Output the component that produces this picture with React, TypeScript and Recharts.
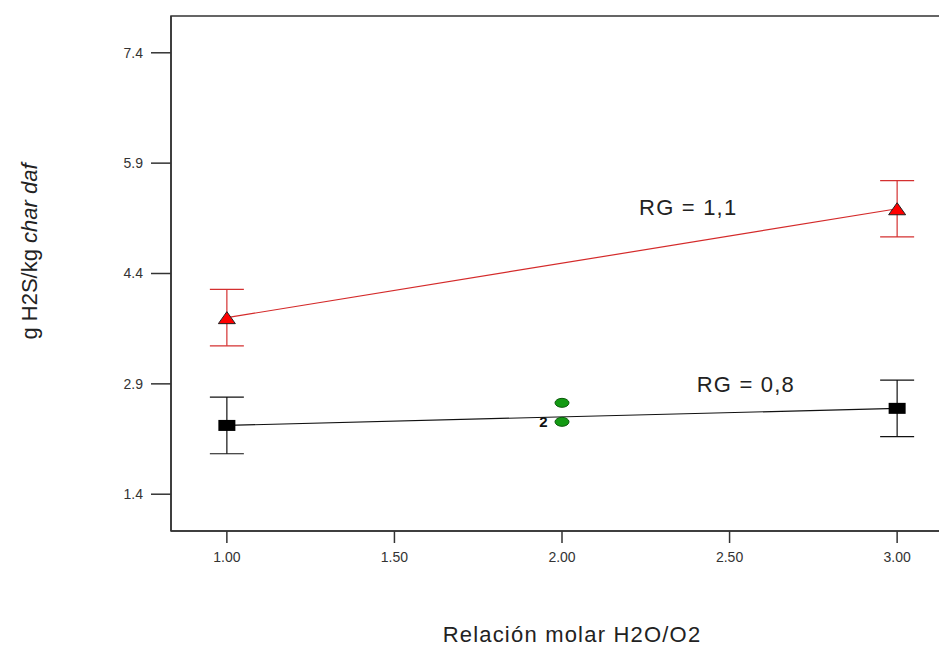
import {
  ScatterChart,
  Scatter,
  XAxis,
  YAxis,
  ErrorBar,
  ReferenceArea,
  ReferenceDot,
  LabelList,
  Label,
} from "recharts";

// Relación molar H2O/O2 vs g H2S/kg char daf
const xTicks = [1, 1.5, 2, 2.5, 3];
const yTicks = [1.4, 2.9, 4.4, 5.9, 7.4];
const xDomain = [0.8333, 3.1667];
const yDomain = [0.9, 7.9];

const rg11X = [1, 3];
const rg11Y = [3.8, 5.28];
const rg11Err = [0.383, 0.383];

const rg08X = [1, 3];
const rg08Y = [2.335, 2.567];
const rg08Err = [0.385, 0.385];

const centerX = [2, 2];
const centerY = [2.642, 2.384];
const centerCount = ["", "2"];

const annotations = [
  { x: 2.23, y: 5.3, text: "RG = 1,1" },
  { x: 2.402, y: 2.896, text: "RG = 0,8" },
];

const FONT = "'Liberation Sans', Arial, sans-serif";

const rg11Data = rg11X.map((x, i) => ({ x, y: rg11Y[i], err: rg11Err[i] }));
const rg08Data = rg08X.map((x, i) => ({ x, y: rg08Y[i], err: rg08Err[i] }));
const centerData = centerX.map((x, i) => ({ x, y: centerY[i], n: centerCount[i] }));

function Triangle(props: any) {
  const { cx, cy } = props;
  return (
    <polygon
      points={`${cx},${cy - 6} ${cx - 8.5},${cy + 6} ${cx + 8.5},${cy + 6}`}
      fill="#ff0000"
      stroke="#222"
      strokeWidth={1}
    />
  );
}

function Square(props: any) {
  const { cx, cy } = props;
  return <rect x={cx - 8.5} y={cy - 5.5} width={17} height={11} fill="#000" />;
}

function Ellipse(props: any) {
  const { cx, cy } = props;
  return <ellipse cx={cx} cy={cy} rx={7} ry={4.5} fill="#139a13" stroke="#0b5a0b" strokeWidth={1} />;
}

function AnnotationText(text: string) {
  return (props: any) => (
    <text
      x={props.cx}
      y={props.cy}
      dominantBaseline="central"
      fontFamily={FONT}
      fontSize={22}
      letterSpacing={1.2}
      fill="#222"
    >
      {text}
    </text>
  );
}

function YTitle(props: any) {
  const { viewBox } = props;
  const x = 29;
  const y = viewBox.y + viewBox.height / 2 - 22;
  return (
    <text
      x={x}
      y={y}
      transform={`rotate(-90, ${x}, ${y})`}
      textAnchor="middle"
      dominantBaseline="central"
      fontFamily={FONT}
      fontSize={22}
      fill="#222"
    >
      g H2S/kg <tspan fontStyle="italic">char daf</tspan>
    </text>
  );
}

function XTitle(props: any) {
  const { viewBox } = props;
  const x = viewBox.x + viewBox.width / 2 + 10;
  const y = viewBox.y + 103;
  return (
    <text
      x={x}
      y={y}
      textAnchor="middle"
      dominantBaseline="central"
      fontFamily={FONT}
      fontSize={22}
      letterSpacing={1.2}
      fill="#222"
    >
      Relación molar H2O/O2
    </text>
  );
}

export default function App() {
  return (
    <div
      style={{
        position: "fixed",
        left: 0,
        top: 0,
        width: 939,
        height: 646,
        overflow: "hidden",
        background: "#fff",
      }}
    >
      <ScatterChart
        width={980}
        height={646}
        margin={{ top: 16, right: 27, bottom: 75, left: 0 }}
      >
        <XAxis
          type="number"
          dataKey="x"
          domain={xDomain}
          ticks={xTicks}
          tickFormatter={(v: number) => v.toFixed(2)}
          allowDataOverflow
          height={40}
          tickSize={12}
          tickMargin={9}
          stroke="#333"
          strokeWidth={1.5}
          tick={{ fill: "#333", fontSize: 14, fontFamily: FONT }}
        >
          <Label content={<XTitle />} />
        </XAxis>
        <YAxis
          type="number"
          dataKey="y"
          domain={yDomain}
          ticks={yTicks}
          tickFormatter={(v: number) => v.toFixed(1)}
          allowDataOverflow
          width={171}
          tickSize={20}
          tickMargin={8}
          stroke="#333"
          strokeWidth={1.5}
          tick={{ fill: "#333", fontSize: 14, fontFamily: FONT }}
        >
          <Label content={<YTitle />} />
        </YAxis>
        <ReferenceArea
          x1={xDomain[0]}
          x2={xDomain[1]}
          y1={yDomain[0]}
          y2={yDomain[1]}
          fill="none"
          stroke="#333"
          strokeWidth={1.5}
          ifOverflow="visible"
        />
        <Scatter
          data={rg11Data}
          line={{ stroke: "#d42a2a", strokeWidth: 1.2 }}
          shape={Triangle}
          isAnimationActive={false}
        >
          <ErrorBar dataKey="err" direction="y" width={17} stroke="#d43030" strokeWidth={1.2} />
        </Scatter>
        <Scatter
          data={rg08Data}
          line={{ stroke: "#111", strokeWidth: 1.2 }}
          shape={Square}
          isAnimationActive={false}
        >
          <ErrorBar dataKey="err" direction="y" width={17} stroke="#111" strokeWidth={1.2} />
        </Scatter>
        <Scatter data={centerData} shape={Ellipse} isAnimationActive={false}>
          <LabelList
            dataKey="n"
            position="left"
            offset={10}
            fill="#111"
            fontSize={15}
            fontWeight="bold"
            fontFamily={FONT}
          />
        </Scatter>
        {annotations.map((a) => (
          <ReferenceDot
            key={a.text}
            x={a.x}
            y={a.y}
            r={0}
            ifOverflow="visible"
            shape={AnnotationText(a.text)}
          />
        ))}
      </ScatterChart>
    </div>
  );
}
